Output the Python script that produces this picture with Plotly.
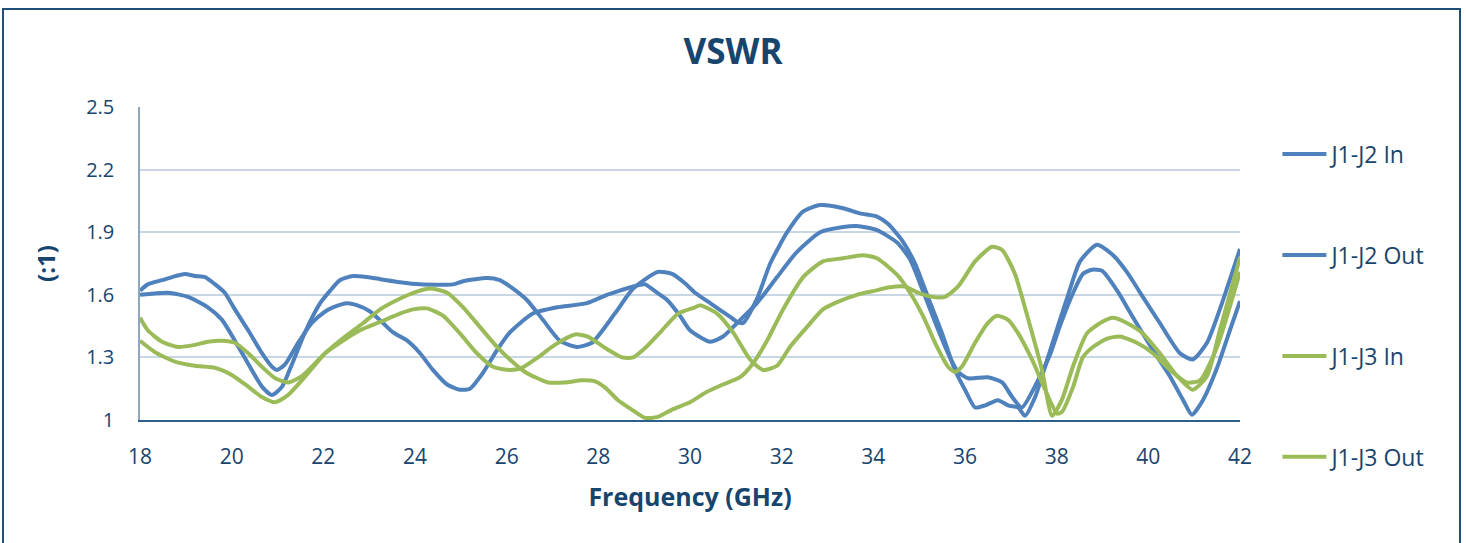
import plotly.graph_objects as go

# ---- data ----
freq_j1j2_in = [18.00, 18.61, 19.05, 19.48, 19.79, 20.07, 20.36, 20.66, 20.88, 21.10, 21.32, 21.60, 21.93, 22.15,
                22.36, 22.65, 22.95, 23.24, 23.67, 24.11, 24.83, 25.05, 25.57, 25.85, 26.07, 26.44, 26.79, 27.16,
                27.53, 27.86, 28.36, 28.76, 29.30, 29.61, 29.89, 30.11, 30.44, 30.87, 31.03, 31.16, 31.46, 31.75,
                32.12, 32.47, 32.84, 33.34, 33.71, 34.08, 34.32, 34.63, 34.91, 35.19, 35.50, 35.78, 36.00, 36.22,
                36.44, 36.72, 36.94, 37.16, 37.31, 37.53, 37.81, 38.25, 38.51, 38.88, 39.23, 39.53, 39.88, 40.25,
                40.69, 40.97, 41.28, 41.56, 42.00]
vswr_j1j2_in = [1.60, 1.61, 1.59, 1.54, 1.48, 1.38, 1.27, 1.16, 1.12, 1.16, 1.27, 1.42, 1.56, 1.62,
                1.67, 1.69, 1.685, 1.675, 1.66, 1.65, 1.65, 1.665, 1.68, 1.67, 1.64, 1.575, 1.48, 1.38,
                1.35, 1.37, 1.51, 1.63, 1.71, 1.70, 1.655, 1.61, 1.56, 1.495, 1.47, 1.465, 1.58, 1.75,
                1.90, 2.00, 2.03, 2.015, 1.99, 1.975, 1.94, 1.86, 1.75, 1.59, 1.415, 1.24, 1.145, 1.06,
                1.07, 1.095, 1.07, 1.06, 1.02, 1.11, 1.30, 1.60, 1.76, 1.84, 1.79, 1.71, 1.59, 1.465,
                1.32, 1.29, 1.37, 1.53, 1.82]

freq_j1j2_out = [18.00, 18.17, 18.48, 18.70, 18.98, 19.20, 19.42, 19.64, 19.85, 20.07, 20.36, 20.66, 20.88, 20.99,
                 21.16, 21.45, 21.75, 22.04, 22.21, 22.52, 22.73, 23.02, 23.30, 23.52, 23.83, 24.11, 24.39, 24.70,
                 24.98, 25.20, 25.48, 25.79, 26.07, 26.57, 27.10, 27.75, 28.19, 28.47, 28.76, 29.02, 29.28, 29.50,
                 29.78, 30.00, 30.44, 30.72, 31.03, 31.46, 31.90, 32.33, 32.84, 33.34, 33.64, 34.08, 34.52, 34.80,
                 35.08, 35.39, 35.67, 35.85, 36.07, 36.50, 36.81, 37.03, 37.24, 37.64, 37.85, 38.07, 38.36, 38.57,
                 38.77, 38.99, 39.32, 39.67, 40.10, 40.47, 40.76, 40.95, 41.19, 41.50, 41.78, 42.00]
vswr_j1j2_out = [1.62, 1.65, 1.67, 1.685, 1.70, 1.69, 1.685, 1.65, 1.61, 1.53, 1.43, 1.32, 1.255, 1.24,
                 1.265, 1.37, 1.465, 1.52, 1.54, 1.56, 1.55, 1.52, 1.465, 1.42, 1.38, 1.32, 1.24, 1.17,
                 1.145, 1.15, 1.225, 1.335, 1.42, 1.51, 1.54, 1.56, 1.60, 1.62, 1.64, 1.65, 1.61, 1.575,
                 1.50, 1.43, 1.375, 1.40, 1.465, 1.56, 1.685, 1.805, 1.90, 1.925, 1.93, 1.91, 1.85, 1.77,
                 1.62, 1.445, 1.30, 1.23, 1.20, 1.205, 1.18, 1.11, 1.06, 1.21, 1.31, 1.45, 1.61, 1.70,
                 1.72, 1.715, 1.62, 1.49, 1.335, 1.21, 1.095, 1.025, 1.095, 1.25, 1.43, 1.57]

freq_j1j3_in = [18.00, 18.17, 18.48, 18.83, 19.20, 19.48, 19.79, 20.07, 20.36, 20.66, 20.95, 21.23, 21.53, 22.04,
                22.36, 22.80, 23.24, 23.67, 23.96, 24.26, 24.61, 24.98, 25.35, 25.70, 26.07, 26.33, 26.68, 27.05,
                27.49, 27.77, 28.15, 28.52, 28.76, 29.02, 29.39, 29.74, 30.11, 30.22, 30.59, 30.94, 31.31, 31.59,
                31.90, 32.18, 32.55, 32.90, 33.21, 33.64, 34.04, 34.32, 34.69, 34.97, 35.28, 35.56, 35.85, 36.22,
                36.59, 36.81, 37.09, 37.37, 37.68, 37.90, 38.12, 38.36, 38.66, 38.95, 39.23, 39.53, 39.88, 40.25,
                40.63, 40.97, 41.28, 41.56, 42.00]
vswr_j1j3_in = [1.49, 1.43, 1.375, 1.35, 1.36, 1.375, 1.38, 1.37, 1.32, 1.255, 1.20, 1.18, 1.21, 1.32,
                1.37, 1.43, 1.47, 1.51, 1.53, 1.535, 1.50, 1.415, 1.32, 1.255, 1.24, 1.25, 1.30, 1.36,
                1.41, 1.40, 1.345, 1.30, 1.30, 1.345, 1.43, 1.51, 1.54, 1.55, 1.51, 1.42, 1.29, 1.24,
                1.26, 1.35, 1.445, 1.53, 1.565, 1.60, 1.62, 1.635, 1.64, 1.61, 1.59, 1.59, 1.64, 1.76,
                1.83, 1.815, 1.70, 1.49, 1.24, 1.02, 1.10, 1.26, 1.415, 1.465, 1.49, 1.465, 1.415, 1.32,
                1.21, 1.145, 1.21, 1.43, 1.78]

freq_j1j3_out = [18.00, 18.33, 18.76, 19.20, 19.64, 20.01, 20.36, 20.66, 20.95, 21.23, 21.53, 22.04, 22.36, 22.87,
                 23.24, 23.61, 24.04, 24.33, 24.70, 25.05, 25.42, 25.79, 26.07, 26.40, 26.90, 27.27, 27.64, 27.93,
                 28.15, 28.43, 28.73, 29.02, 29.30, 29.61, 30.00, 30.37, 30.72, 31.09, 31.37, 31.68, 32.03, 32.47,
                 32.90, 33.34, 33.77, 34.08, 34.52, 34.80, 35.08, 35.39, 35.63, 35.78, 35.93, 36.22, 36.50, 36.70,
                 36.94, 37.16, 37.46, 37.75, 38.01, 38.12, 38.36, 38.57, 38.79, 39.10, 39.38, 39.75, 40.10, 40.47,
                 40.84, 41.13, 41.50, 42.00]
vswr_j1j3_out = [1.38, 1.325, 1.28, 1.26, 1.25, 1.215, 1.16, 1.11, 1.085, 1.12, 1.19, 1.32, 1.38, 1.465,
                 1.53, 1.575, 1.615, 1.63, 1.61, 1.54, 1.445, 1.35, 1.29, 1.23, 1.18, 1.18, 1.19, 1.185,
                 1.155, 1.095, 1.05, 1.01, 1.015, 1.05, 1.085, 1.135, 1.17, 1.205, 1.27, 1.38, 1.53, 1.685,
                 1.76, 1.775, 1.79, 1.775, 1.695, 1.61, 1.50, 1.35, 1.255, 1.23, 1.255, 1.37, 1.465, 1.50,
                 1.48, 1.415, 1.29, 1.145, 1.03, 1.04, 1.16, 1.30, 1.35, 1.39, 1.40, 1.37, 1.32, 1.24,
                 1.18, 1.19, 1.35, 1.71]

series_names = ["J1-J2 In", "J1-J2 Out", "J1-J3 In", "J1-J3 Out"]
x_ticks = [18, 20, 22, 24, 26, 28, 30, 32, 34, 36, 38, 40, 42]
y_ticks = [1, 1.3, 1.6, 1.9, 2.2, 2.5]
y_tick_text = ["1", "1.3", "1.6", "1.9", "2.2", "2.5"]

BLUE = "#4F81BD"
GREEN = "#9BBB59"
TXT = "#17456E"
FONT = "Open Sans"

fig = go.Figure()
series = [
    (freq_j1j2_in, vswr_j1j2_in, BLUE),
    (freq_j1j2_out, vswr_j1j2_out, BLUE),
    (freq_j1j3_in, vswr_j1j3_in, GREEN),
    (freq_j1j3_out, vswr_j1j3_out, GREEN),
]
for i, (xs, ys, col) in enumerate(series):
    fig.add_trace(go.Scatter(
        x=xs, y=ys, mode="lines", name=series_names[i], legendgroup=f"g{i}",
        line=dict(color=col, width=4, shape="spline", smoothing=0.6),
    ))

fig.update_layout(
    width=1466, height=543,
    margin=dict(l=140, r=226, t=107, b=123),
    paper_bgcolor="white", plot_bgcolor="white",
    font=dict(family=FONT, color=TXT),
    title=dict(text="<b>VSWR</b>", x=0.5, xref="container", xanchor="center",
               y=1 - 52 / 543, yref="container", yanchor="middle",
               font=dict(size=35, color=TXT, family=FONT)),
    showlegend=True,
    legend=dict(x=1.034, xanchor="left", y=0.918, yanchor="top",
                font=dict(size=23, color=TXT, family=FONT), maxheight=520,
                tracegroupgap=68, itemwidth=44, bgcolor="rgba(0,0,0,0)"),
    xaxis=dict(range=[18, 42], tickvals=x_ticks, showgrid=False, zeroline=False,
               showline=True, linecolor="#2C5F8A", linewidth=1.5, ticks="",
               tickfont=dict(size=21, color=TXT), ticklabelstandoff=17,
               title=dict(text="<b>Frequency (GHz)</b>", font=dict(size=25, color=TXT), standoff=20)),
    yaxis=dict(range=[1, 2.5], tickvals=y_ticks, ticktext=y_tick_text, showgrid=True,
               gridcolor="#C9D7E4", gridwidth=2, zeroline=False,
               showline=True, linecolor="#8DA7C0", linewidth=1.5, ticks="",
               tickfont=dict(size=20, color=TXT), ticklabelstandoff=20,
               title=dict(text="<b>(:1)</b>", font=dict(size=24, color=TXT), standoff=24)),
)

# outer chart frame
fig.add_shape(type="rect", xref="paper", yref="paper",
              x0=(3 - 140) / 1100, x1=(1460 - 140) / 1100,
              y0=(420 - 600) / 313, y1=(420 - 9) / 313,
              line=dict(color="#1F4E79", width=2), fillcolor="rgba(0,0,0,0)", layer="below")

fig.write_html("out.html", config={"displayModeBar": False},
               post_script="document.body.style.margin='0';document.body.style.overflow='hidden';")
